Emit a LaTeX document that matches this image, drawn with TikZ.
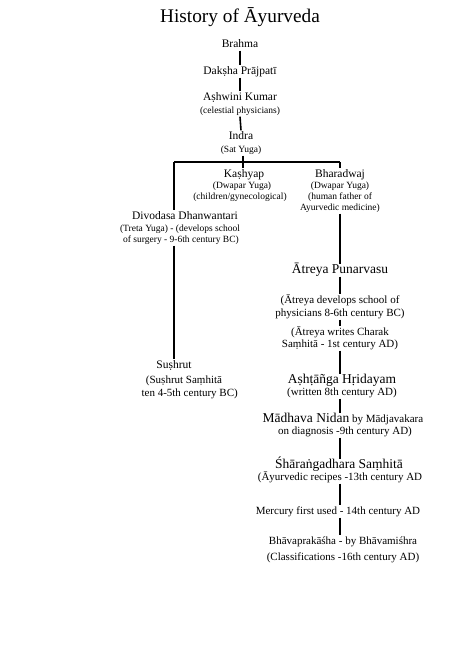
\documentclass[tikz,border=0pt]{standalone}
\usepackage{fontspec}
\setmainfont{Liberation Serif}
\begin{document}
\begin{tikzpicture}[x=1pt,y=-1pt,
  every node/.style={inner xsep=0pt,inner ysep=1.5pt,text height=0.7em,text depth=0.2em,anchor=base},
  ttl/.style={font=\fontsize{19.3}{21}\selectfont},
  hd/.style={font=\fontsize{11.5}{13}\selectfont},
  sm/.style={font=\fontsize{9.5}{11}\selectfont},
  bg/.style={font=\fontsize{13.5}{15}\selectfont},
  md/.style={font=\fontsize{11}{13}\selectfont},
  ln/.style={line width=1.6pt}]
\useasboundingbox (0,0) rectangle (474,670);
\fill[white] (0,0) rectangle (474,670);
% title
\node[ttl] (title) at (240,22) {History of Āyurveda};
% top chain
\node[hd] (brahma) at (240,47) {Brahma};
\node[hd] (daksha) at (240,74) {Dakṣha Prājpatī};
\node[hd] (ashwini) at (240,100) {Aṣhwini Kumar};
\node[sm] (celest) at (240,113) {(celestial physicians)};
\node[hd] (indra) at (241,139) {Indra};
\node[sm] (sat) at (241,152) {(Sat Yuga)};
% branches
\coordinate (j) at (243,162);
\coordinate (jl) at (174,162);
\coordinate (jr) at (340,162);
\node[hd] (kashyap) at (244,177) {Kaṣhyap};
\node[sm] (k2) at (242,188) {(Dwapar Yuga)};
\node[sm] (k3) at (240,199) {(children/gynecological)};
\node[hd] (bhar) at (340,177) {Bharadwaj};
\node[sm] (b2) at (340,188) {(Dwapar Yuga)};
\node[sm] (b3) at (340,199) {(human father of};
\node[sm] (b4) at (340,210) {Ayurvedic medicine)};
\node[hd] (divo) at (185,219) {Divodasa Dhanwantari};
\node[sm] (d2) at (180,231) {(Treta Yuga) - (develops school};
\node[sm] (d3) at (181,242) {of surgery - 9-6th century BC)};
% left
\node[hd] (sush) at (174,368) {Suṣhrut};
\node[md] (s2) at (184,383) {(Suṣhrut Saṃhitā};
\node[md,anchor=base east] (s3) at (238,396) {ten 4-5th century BC)};
% right chain
\node[bg] (atreya) at (340,273) {Ātreya Punarvasu};
\node[md] (a2) at (340,303) {(Ātreya develops school of};
\node[md] (a3) at (340,316) {physicians 8-6th century BC)};
\node[md] (a4) at (340,335) {(Ātreya writes Charak};
\node[md] (a5) at (340,347) {Saṃhitā - 1st century AD)};
\node[bg] (asht) at (342,383) {Aṣhṭāñga Hṛidayam};
\node[md] (w) at (342,395) {(written 8th century AD)};
\node[md] (madh) at (343,422) {{\fontsize{13.5}{15}\selectfont Mādhava Nidan} by Mādjavakara};
\node[md] (md2) at (345,434) {on diagnosis -9th century AD)};
\node[bg] (shar) at (339,468) {Śhāraṅgadhara Saṃhitā};
\node[md] (sh2) at (340,480) {(Āyurvedic recipes -13th century AD};
\node[md] (merc) at (338,514) {Mercury first used - 14th century AD};
\node[md] (bhava) at (343,544) {Bhāvaprakāśha - by Bhāvamiśhra};
\node[md] (cls) at (343,560) {(Classifications -16th century AD)};
% connectors
\draw[ln] (brahma.south) -- (daksha.north);
\draw[ln] (daksha.south) -- (ashwini.north);
\draw[ln] (celest.south) -- (indra.north);
\draw[ln] (sat.south -| j) -- (j);
\draw[ln] (jl) -- (jr);
\draw[ln] (j) -- (j |- kashyap.north);
\draw[ln] (jr) -- (bhar.north);
\draw[ln] (jl) -- (jl |- divo.north);
\draw[ln] (b4.south) -- (atreya.north);
\draw[ln] (d3.south -| jl) -- (sush.north);
\draw[ln] (atreya.south) -- (a2.north);
\draw[ln] (a3.south) -- (a4.north);
\draw[ln] (a5.south) -- (asht.north -| a5);
\draw[ln] (w.south -| a5) -- (madh.north -| a5);
\draw[ln] (md2.south -| a5) -- (shar.north -| a5);
\draw[ln] (sh2.south -| a5) -- (merc.north -| a5);
\draw[ln] (merc.south -| a5) -- (bhava.north -| a5);
\end{tikzpicture}
\end{document}
